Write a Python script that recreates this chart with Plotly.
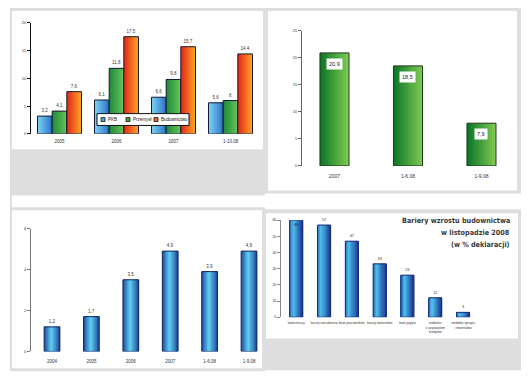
import plotly.graph_objects as go

# ---------------- data ----------------
tl_categories = ['2005', '2006', '2007', '1-10.08']
tl_pkb = [3.2, 6.1, 6.6, 5.6]
tl_przemysl = [4.1, 11.8, 9.8, 6.0]
tl_budownictwo = [7.6, 17.5, 15.7, 14.4]
tl_series_names = ['PKB', 'Przemysł', 'Budownictwo']
tl_yticks = [0, 5, 10, 15, 20]

tr_categories = ['2007', '1-6.08', '1-9.08']
tr_values = [20.9, 18.5, 7.9]
tr_yticks = [0, 5, 10, 15, 20, 25]

bl_categories = ['2004', '2005', '2006', '2007', '1-6.08', '1-9.08']
bl_values = [1.2, 1.7, 3.5, 4.9, 3.9, 4.9]
bl_yticks = [0, 2, 4, 6]

br_categories = ['konkurencja', 'koszty zatrudnienia', 'brak pracowników',
                 'koszty materiałów', 'brak popytu',
                 'trudności<br>z uzyskaniem<br>kredytów',
                 'niedobór sprzętu<br>i materiałów']
br_values = [60, 57, 47, 33, 26, 12, 3]
br_yticks = [0, 10, 20, 30, 40, 50, 60]
br_title_lines = ['Bariery wzrostu budownictwa', 'w listopadzie 2008',
                  '(w % deklaracji)']

# ---------------- helpers ----------------
OFF = 8                      # page body margin of the html page
W, H = 532 - OFF, 386 - OFF
FONT = 'Liberation Sans, Arial, sans-serif'
TXT = '#333333'


def X(px):
    return (px - OFF) / W


def Y(py):
    return 1 - (py - OFF) / H


def fmt(v):
    return f'{v:g}'.replace('.', ',')


def hex2rgb(h):
    h = h.lstrip('#')
    return tuple(int(h[i:i + 2], 16) for i in (0, 2, 4))


def interp(stops, t):
    for (t0, c0), (t1, c1) in zip(stops[:-1], stops[1:]):
        if t0 <= t <= t1:
            f = (t - t0) / (t1 - t0) if t1 > t0 else 0
            a, b = hex2rgb(c0), hex2rgb(c1)
            r = [round(a[i] + (b[i] - a[i]) * f) for i in range(3)]
            return f'rgb({r[0]},{r[1]},{r[2]})'
    return stops[-1][1]


fig = go.Figure()


def gradient_bars(xs, ys, ax, center, width, stops, line_color, n=10,
                  text=None, textpos='outside', tsize=4.5):
    xa = 'x' if ax == 1 else f'x{ax}'
    ya = 'y' if ax == 1 else f'y{ax}'
    left = center - width / 2
    sw = width / n
    for k in range(n):
        c = interp(stops, (k + 0.5) / n)
        w = min(sw * 1.6, width - k * sw)
        fig.add_bar(x=xs, y=ys, xaxis=xa, yaxis=ya, offset=left + k * sw,
                    width=w, marker=dict(color=c, line=dict(width=0)),
                    showlegend=False, hoverinfo='skip')
    kw = {}
    if text is not None:
        kw = dict(text=text, textposition=textpos, constraintext='none',
                  textfont=dict(size=tsize, color=TXT, family=FONT),
                  insidetextfont=dict(size=tsize, color='#0a1a40', family=FONT),
                  outsidetextfont=dict(size=tsize, color=TXT, family=FONT),
                  insidetextanchor='end', cliponaxis=False)
    fig.add_bar(x=xs, y=ys, xaxis=xa, yaxis=ya, offset=left, width=width,
                marker=dict(color='rgba(0,0,0,0)',
                            line=dict(color=line_color, width=1)),
                showlegend=False, hoverinfo='skip', **kw)


# ---------------- top-left: grouped bars ----------------
tl_series = [tl_pkb, tl_przemysl, tl_budownictwo]
tl_stops = [
    [(0, '#7fd4f6'), (1, '#2a72c4')],
    [(0, '#1f8a3a'), (1, '#66c45a')],
    [(0, '#e2261a'), (1, '#ffa824')],
]
bw = 0.257
for i, vals in enumerate(tl_series):
    gradient_bars(tl_categories, vals, 1, (i - 1) * bw, bw, tl_stops[i],
                  '#141830', text=[fmt(v) for v in vals], tsize=4.5)

# ---------------- top-right: green bars ----------------
gradient_bars(tr_categories, tr_values, 2, 0, 0.395,
              [(0, '#0a7428'), (1, '#80cc52')], '#1c3a1c', n=14)

# ---------------- bottom-left: blue bars ----------------
gradient_bars(bl_categories, bl_values, 3, 0, 0.40,
              [(0, '#1c4a9a'), (0.45, '#62d0f4'), (1, '#1c4a9a')],
              '#102860', n=12, text=[fmt(v) for v in bl_values], tsize=4.5)

# ---------------- bottom-right: barriers ----------------
br_pos = ['inside'] + ['outside'] * (len(br_values) - 1)
gradient_bars(br_categories, br_values, 4, 0, 0.47,
              [(0, '#2a62b8'), (0.3, '#4cc0ec'), (1, '#1a3896')],
              '#1a2a70', n=12, text=[fmt(v) for v in br_values],
              textpos=br_pos, tsize=3.8)

# ---------------- axes ----------------
def yaxis(lo_px, hi_px, rng, ticks, lc, size, anchor):
    return dict(domain=[Y(lo_px), Y(hi_px)], range=rng, tickvals=ticks,
                showline=True, linecolor=lc, linewidth=1, ticks='outside',
                ticklen=3, tickwidth=1, tickcolor=lc, showgrid=False,
                zeroline=False, tickfont=dict(size=size, color=TXT, family=FONT),
                fixedrange=True, anchor=anchor)


def xaxis(l_px, r_px, rng, size, anchor, standoff):
    return dict(domain=[X(l_px), X(r_px)], range=rng, type='category',
                showline=False, ticks='', showgrid=False, zeroline=False,
                tickfont=dict(size=size, color=TXT, family=FONT), anchor=anchor,
                ticklabelstandoff=standoff, fixedrange=True, tickangle=0)


fig.update_layout(
    xaxis=xaxis(31, 259, [-0.5, 3.5], 4.5, 'y', 4),
    yaxis=yaxis(132.5, 20, [0, 20], tl_yticks, '#111111', 4, 'x'),
    xaxis2=xaxis(302, 518, [-0.442, 2.497], 5, 'y2', 6),
    yaxis2=yaxis(165, 28, [0, 25], tr_yticks, '#666666', 4, 'x2'),
    xaxis3=xaxis(31, 263, [-0.533, 5.355], 4.5, 'y3', 6),
    yaxis3=yaxis(353, 228.5, [0, 6], bl_yticks, '#777777', 4, 'x3'),
    xaxis4=xaxis(281, 480, [-0.55, 6.61], 3.2, 'y4', 3),
    yaxis4=yaxis(318.3, 220, [0, 60], br_yticks, '#888888', 3.5, 'x4'),
)

# ---------------- panels (background shapes) ----------------
shapes = []


def rect(x0, y0, x1, y1, fill, layer='below', line=None):
    shapes.append(dict(type='rect', xref='paper', yref='paper',
                       x0=X(x0), x1=X(x1), y0=Y(y0), y1=Y(y1),
                       fillcolor=fill, layer=layer,
                       line=line or dict(width=0)))


GRAY = '#dedede'
rect(10, 5, 265, 195, GRAY)
rect(12, 8, 263, 148, 'white')
rect(265, 5, 521, 193, GRAY)
rect(268, 8, 517, 190, 'white')
rect(10, 193, 12, 207, GRAY)
rect(10, 207, 265, 373, GRAY)
rect(12, 210, 263, 370, 'white')
rect(262, 209, 521, 372, GRAY)
rect(266, 213, 518, 340, 'white')

# manual legend for top-left chart
rect(97, 112, 189, 124, 'white', layer='above',
     line=dict(color='#111111', width=1))
legend_x = [101, 126, 154]
annotations = []
for i, name in enumerate(tl_series_names):
    lx = legend_x[i]
    rect(lx, 116, lx + 4, 120, interp(tl_stops[i], 0.5), layer='above',
         line=dict(color='#111111', width=0.8))
    annotations.append(dict(xref='paper', yref='paper', x=X(lx + 5), y=Y(118),
                            xanchor='left', yanchor='middle', text=name,
                            showarrow=False,
                            font=dict(size=4.5, color='#111111', family=FONT)))

# white value boxes on top-right chart (category index positions)
for i, v in enumerate(tr_values):
    annotations.append(dict(xref='x2', yref='y2', x=i, y=v, xanchor='center',
                            yanchor='top', yshift=-5, text=fmt(v),
                            showarrow=False, bgcolor='white', borderpad=2,
                            font=dict(size=5.5, color='#222222', family=FONT)))

# bottom-right title, one annotation per line
title_y = [220.7, 232.7, 244.3]
for line, ty in zip(br_title_lines, title_y):
    annotations.append(dict(xref='paper', yref='paper', x=X(512), y=Y(ty),
                            xanchor='right', yanchor='middle', align='right',
                            text='<b>' + line + '</b>', showarrow=False,
                            font=dict(size=7.2,
                                      family='DejaVu Sans Condensed, DejaVu Sans, sans-serif',
                                      color='#3a3a3a')))

fig.update_layout(
    width=W, height=H, autosize=False,
    margin=dict(l=0, r=0, t=0, b=0, pad=0),
    paper_bgcolor='white', plot_bgcolor='rgba(0,0,0,0)',
    barmode='overlay', showlegend=False,
    shapes=shapes, annotations=annotations,
)

fig.write_html('out.html')
